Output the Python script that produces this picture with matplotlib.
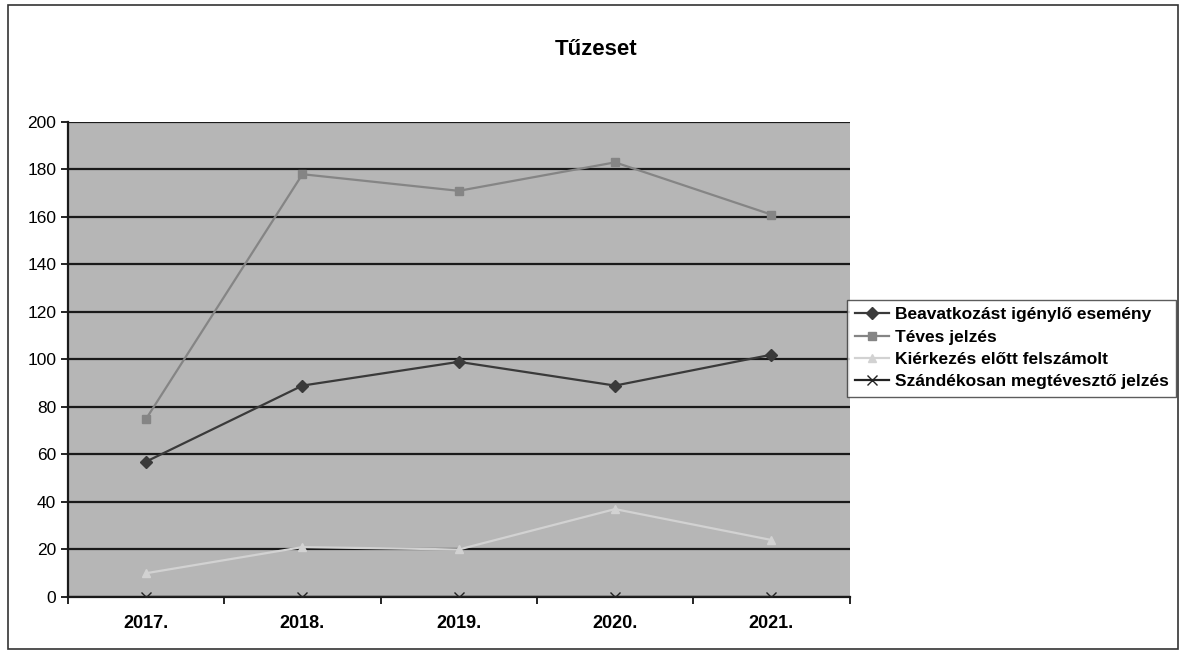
import numpy as np
import matplotlib
matplotlib.use("Agg")
import matplotlib.pyplot as plt
from matplotlib.patches import Rectangle

plt.rcParams['font.family'] = ['Liberation Sans', 'DejaVu Sans']

years = ['2017.', '2018.', '2019.', '2020.', '2021.']
beavatkozast = [57, 89, 99, 89, 102]
teves = [75, 178, 171, 183, 161]
kierkezes = [10, 21, 20, 37, 24]
szandekosan = [0, 0, 0, 0, 0]

fig = plt.figure(figsize=(11.86, 6.54), dpi=100)
fig.patches.append(Rectangle((0.007, 0.008), 0.986, 0.984, transform=fig.transFigure,
                             fill=False, edgecolor='#333333', linewidth=1.2))

ax = fig.add_axes([0.0573, 0.0872, 0.659, 0.7263])
ax.set_facecolor('#b6b6b6')
x = np.arange(len(years))

ax.plot(x, beavatkozast, color='#3a3a3a', marker='D', markersize=6, linewidth=1.6,
        label='Beavatkozást igénylő esemény', zorder=4)
ax.plot(x, teves, color='#858585', marker='s', markersize=6, linewidth=1.6,
        label='Téves jelzés', zorder=4)
ax.plot(x, kierkezes, color='#d2d2d2', marker='^', markersize=6, linewidth=1.6,
        label='Kiérkezés előtt felszámolt', zorder=4)
ax.plot(x, szandekosan, color='#222222', marker='x', markersize=7, linewidth=1.6,
        label='Szándékosan megtévesztő jelzés', zorder=4)

ax.set_xlim(-0.5, 4.5)
ax.set_ylim(0, 200)
ax.set_yticks(np.arange(0, 201, 20))
ax.yaxis.grid(True, color='#1a1a1a', linewidth=1.6)
ax.set_axisbelow(True)
ax.set_xticks(x)
ax.set_xticklabels(years, fontsize=13, fontweight='bold')
ax.set_xticks(np.arange(-0.5, 4.6, 1), minor=True)
ax.tick_params(axis='x', which='major', length=0, pad=13)
ax.tick_params(axis='x', which='minor', length=5, width=1.2)
ax.tick_params(axis='y', labelsize=12.5, length=5, width=1.2)
for s in ['top', 'right']:
    ax.spines[s].set_visible(False)
for s in ['left', 'bottom']:
    ax.spines[s].set_linewidth(1.6)
    ax.spines[s].set_color('#1a1a1a')

fig.text(0.5025, 0.925, 'Tűzeset', ha='center', va='center', fontsize=16, fontweight='bold')

leg = fig.legend(loc='upper left', bbox_to_anchor=(0.714, 0.542), fontsize=12.5,
                 frameon=True, fancybox=False, edgecolor='#333333', handlelength=2.0,
                 borderpad=0.45, labelspacing=0.4, handletextpad=0.3, borderaxespad=0)
leg.get_frame().set_linewidth(1.0)
for t in leg.get_texts():
    t.set_fontweight('bold')

fig.savefig('out.png', dpi=100)
